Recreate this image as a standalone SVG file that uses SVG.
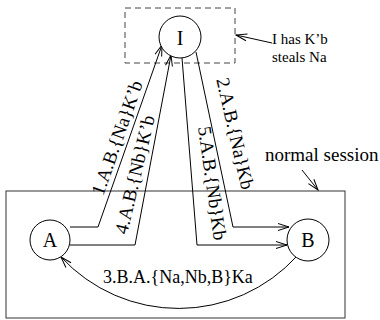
<svg xmlns="http://www.w3.org/2000/svg" width="380" height="320" viewBox="0 0 380 320">
<style>
text{font-family:"Liberation Serif","Times New Roman",serif;fill:#000}
.lbl{font-size:19px}
.node{font-size:20px;text-anchor:middle}
.note{font-size:15px}
.ln{fill:none;stroke:#000;stroke-width:1}
circle{fill:#fff;stroke:#000;stroke-width:1}
</style>
<defs>
<marker id="ah" markerWidth="14" markerHeight="10" refX="0" refY="0" viewBox="-12 -5 14 10" orient="auto" markerUnits="userSpaceOnUse">
<path d="M-11,-3.5 L0,0 L-11,3.5" fill="none" stroke="#000" stroke-width="1"/>
</marker>
</defs>
<rect x="125" y="8" width="110" height="55" fill="none" stroke="#444" stroke-width="1" stroke-dasharray="6,4"/>
<rect x="6" y="191" width="339" height="127" fill="none" stroke="#333" stroke-width="1"/>
<g id="connectors">
<polyline class="ln" points="70,227 98,227 162,45" marker-end="url(#ah)"/>
<polyline class="ln" points="70,245 135,245 171,55" marker-end="url(#ah)"/>
<polyline class="ln" points="196,52 233,227 289,227" marker-end="url(#ah)"/>
<polyline class="ln" points="182,58 197,245 287,245" marker-end="url(#ah)"/>
<path class="ln" d="M297,256 A160,160 0 0 1 61,257" marker-end="url(#ah)"/>
<line class="ln" x1="272" y1="43" x2="236" y2="35" marker-end="url(#ah)"/>
<line class="ln" x1="302" y1="170" x2="318" y2="190" marker-end="url(#ah)"/>
<text class="lbl" text-anchor="middle" transform="translate(123,140) rotate(-70.5)">1.A.B.{Na}K’b</text>
<text class="lbl" text-anchor="middle" transform="translate(141,176) rotate(-76.7)">4.A.B.{Nb}K’b</text>
<text class="lbl" text-anchor="middle" transform="translate(229,135) rotate(77)">2.A.B.{Na}Kb</text>
<text class="lbl" text-anchor="middle" transform="translate(206,184) rotate(82)">5.A.B.{Nb}Kb</text>
<text class="lbl" x="103" y="283" style="font-size:18px">3.B.A.{Na,Nb,B}Ka</text>
</g>
<g id="I"><circle cx="180" cy="37" r="21"/><text class="node" x="180" y="45">I</text></g>
<g id="A"><circle cx="50" cy="240" r="20"/><text class="node" x="50" y="247">A</text></g>
<g id="B"><circle cx="308" cy="240" r="21"/><text class="node" x="308" y="247">B</text></g>
<g id="notes">
<text class="note" x="272" y="44">I has K’b</text>
<text class="note" x="272" y="62">steals Na</text>
<text class="lbl" x="265" y="161">normal session</text>
</g>
</svg>
